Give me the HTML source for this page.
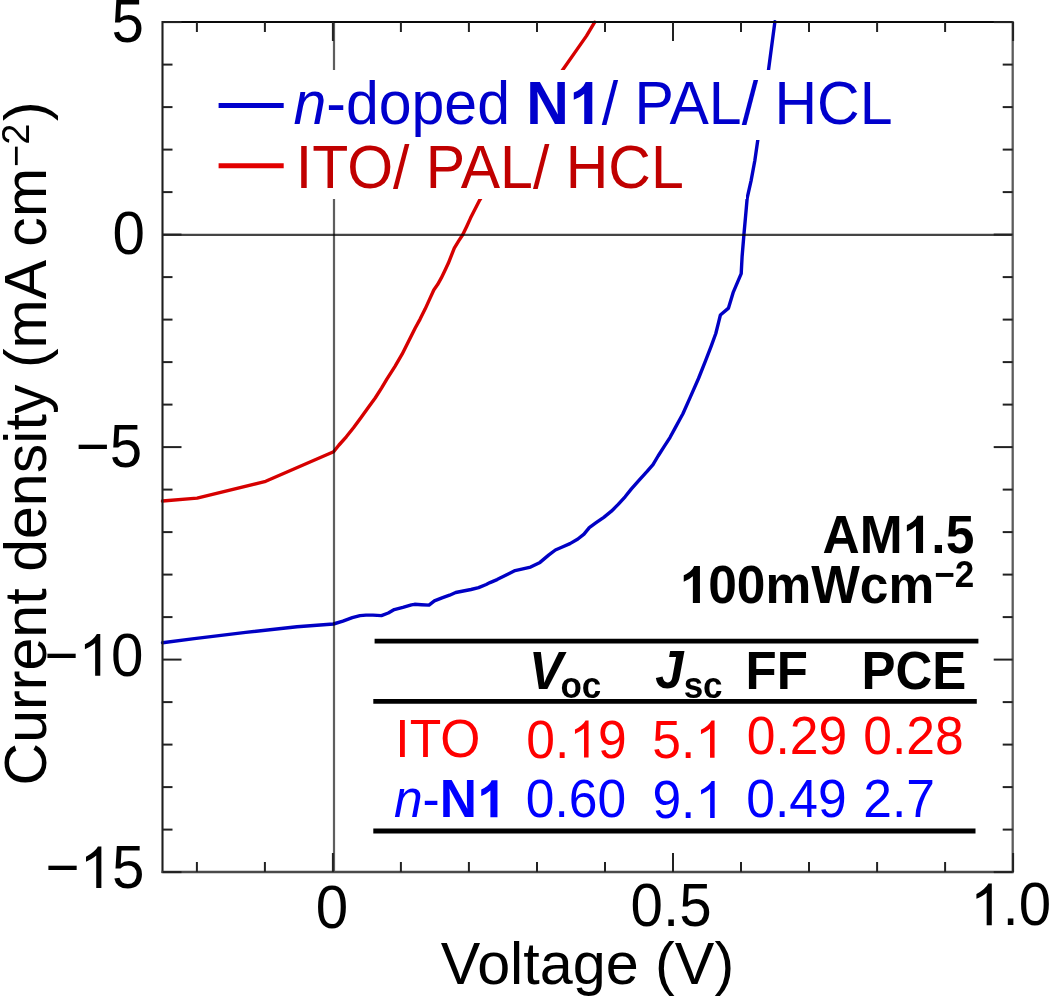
<!DOCTYPE html>
<html><head><meta charset="utf-8"><style>
html,body{margin:0;padding:0;background:#fff;overflow:hidden}
svg{display:block}
.h1{fill-opacity:0}
text{font-family:"Liberation Sans",sans-serif}
</style></head><body>
<svg width="1050" height="997" viewBox="0 0 1050 997">
<rect width="1050" height="997" fill="#fff"/>
<polyline fill="none" stroke="#d60000" stroke-width="3.4" stroke-linejoin="round" stroke-linecap="round" points="162.5,501.0 197.1,498.1 265.7,481.3 333.6,451.8 339,445 346.3,436.8 353.5,427.8 360.7,417.9 367.9,407.9 375.2,398 381.5,388.1 387,378.8 395,366.3 402.1,354.2 409.1,340.2 415.1,328.2 420.1,319.1 425.1,309.1 430.1,298.1 433.8,290 437.6,284.6 441.2,278.2 444.8,270.8 448.3,263.3 454.3,248.1 458.7,240.9 462.7,234.8 466.7,226.4 470.5,218.1 479.7,200 520,135 562.1,70.8 577.4,48.9 586.5,35.9 594.7,22.2"/>
<polyline fill="none" stroke="#0000c4" stroke-width="3.4" stroke-linejoin="round" stroke-linecap="round" points="162.5,642.8 194.3,638.6 245.7,632.4 297,626.8 333.4,624.0 342.9,621.1 352.3,617.7 360,615.6 366,615.1 372.9,615.1 381.4,615.6 388.3,613 394.3,609.6 402.9,607.4 411.4,604.9 414.6,604.3 421.4,604.7 429,605.1 434.4,600.9 442,597.9 449.6,595.2 455.7,592.5 463.3,591 471,589.5 478.6,587.6 486.2,584.5 490,582.6 497.1,579.6 505.7,575.3 515.1,570.6 522.9,568.9 530.6,567.1 540,562.4 548.6,555.1 555.4,550 562.3,547 570,543.6 577.9,539 584,534.1 589.3,527.6 596.1,522.7 603.8,517.3 611.4,511.2 618.2,504.4 625.1,496.8 631.2,489.1 638.5,480.8 647.1,471.4 653,464.6 658.1,456 664.1,446.7 670.1,437.3 675.2,427.9 680.3,418.5 682.9,413.7 690.4,396.9 698.5,378.5 705.4,361.2 711.2,346.2 715.8,333.5 718.7,321.9 720.4,315 728.5,308.1 733.1,292.7 741.2,273.7 742.1,256.5 743.9,234.8 745.7,214.9 747.2,197.8 751.1,180.6 754.8,160.7 757.8,139.9 768.6,69.2 774.9,21.8"/>
<line x1="334.0" y1="22" x2="334.0" y2="872" stroke="#5e5e5e" stroke-width="2.2" style="mix-blend-mode:multiply"/>
<line x1="162.5" y1="234.9" x2="1012.7" y2="234.9" stroke="#454545" stroke-width="2.2" style="mix-blend-mode:multiply"/>
<rect x="206" y="70" width="690" height="70" fill="#fff"/>
<rect x="206" y="138" width="540" height="61" fill="#fff"/>
<line x1="218.6" y1="105.4" x2="283.7" y2="105.4" stroke="#0000cc" stroke-width="5"/>
<line x1="218.6" y1="165.8" x2="283.7" y2="165.8" stroke="#e20000" stroke-width="5"/>
<line x1="162.5" y1="22" x2="1012.7" y2="22" stroke="#0a0a0a" stroke-width="2.1"/>
<line x1="162.5" y1="21" x2="162.5" y2="873" stroke="#1e1e1e" stroke-width="2.1"/>
<line x1="161.5" y1="872" x2="1013.7" y2="872" stroke="#4a4a4a" stroke-width="2.3"/>
<line x1="1012.7" y1="21" x2="1012.7" y2="873" stroke="#5c5c5c" stroke-width="2.3"/>
<g stroke="#222" stroke-width="2">
<line x1="196.9" y1="872" x2="196.9" y2="862"/>
<line x1="196.9" y1="22" x2="196.9" y2="32"/>
<line x1="264.9" y1="872" x2="264.9" y2="862"/>
<line x1="264.9" y1="22" x2="264.9" y2="32"/>
<line x1="332.9" y1="872" x2="332.9" y2="853"/>
<line x1="332.9" y1="22" x2="332.9" y2="41"/>
<line x1="400.9" y1="872" x2="400.9" y2="862"/>
<line x1="400.9" y1="22" x2="400.9" y2="32"/>
<line x1="468.9" y1="872" x2="468.9" y2="862"/>
<line x1="468.9" y1="22" x2="468.9" y2="32"/>
<line x1="537.0" y1="872" x2="537.0" y2="862"/>
<line x1="537.0" y1="22" x2="537.0" y2="32"/>
<line x1="605.0" y1="872" x2="605.0" y2="862"/>
<line x1="605.0" y1="22" x2="605.0" y2="32"/>
<line x1="673.0" y1="872" x2="673.0" y2="853"/>
<line x1="673.0" y1="22" x2="673.0" y2="41"/>
<line x1="741.0" y1="872" x2="741.0" y2="862"/>
<line x1="741.0" y1="22" x2="741.0" y2="32"/>
<line x1="809.0" y1="872" x2="809.0" y2="862"/>
<line x1="809.0" y1="22" x2="809.0" y2="32"/>
<line x1="877.1" y1="872" x2="877.1" y2="862"/>
<line x1="877.1" y1="22" x2="877.1" y2="32"/>
<line x1="945.1" y1="872" x2="945.1" y2="862"/>
<line x1="945.1" y1="22" x2="945.1" y2="32"/>
<line x1="1013.1" y1="872" x2="1013.1" y2="853"/>
<line x1="1013.1" y1="22" x2="1013.1" y2="41"/>
<line x1="162.5" y1="872.1" x2="181.5" y2="872.1"/>
<line x1="1012.7" y1="872.1" x2="993.7" y2="872.1"/>
<line x1="162.5" y1="829.6" x2="172.5" y2="829.6"/>
<line x1="1012.7" y1="829.6" x2="1002.7" y2="829.6"/>
<line x1="162.5" y1="787.1" x2="172.5" y2="787.1"/>
<line x1="1012.7" y1="787.1" x2="1002.7" y2="787.1"/>
<line x1="162.5" y1="744.6" x2="172.5" y2="744.6"/>
<line x1="1012.7" y1="744.6" x2="1002.7" y2="744.6"/>
<line x1="162.5" y1="702.1" x2="172.5" y2="702.1"/>
<line x1="1012.7" y1="702.1" x2="1002.7" y2="702.1"/>
<line x1="162.5" y1="659.6" x2="181.5" y2="659.6"/>
<line x1="1012.7" y1="659.6" x2="993.7" y2="659.6"/>
<line x1="162.5" y1="617.1" x2="172.5" y2="617.1"/>
<line x1="1012.7" y1="617.1" x2="1002.7" y2="617.1"/>
<line x1="162.5" y1="574.6" x2="172.5" y2="574.6"/>
<line x1="1012.7" y1="574.6" x2="1002.7" y2="574.6"/>
<line x1="162.5" y1="532.1" x2="172.5" y2="532.1"/>
<line x1="1012.7" y1="532.1" x2="1002.7" y2="532.1"/>
<line x1="162.5" y1="489.6" x2="172.5" y2="489.6"/>
<line x1="1012.7" y1="489.6" x2="1002.7" y2="489.6"/>
<line x1="162.5" y1="447.1" x2="181.5" y2="447.1"/>
<line x1="1012.7" y1="447.1" x2="993.7" y2="447.1"/>
<line x1="162.5" y1="404.6" x2="172.5" y2="404.6"/>
<line x1="1012.7" y1="404.6" x2="1002.7" y2="404.6"/>
<line x1="162.5" y1="362.1" x2="172.5" y2="362.1"/>
<line x1="1012.7" y1="362.1" x2="1002.7" y2="362.1"/>
<line x1="162.5" y1="319.6" x2="172.5" y2="319.6"/>
<line x1="1012.7" y1="319.6" x2="1002.7" y2="319.6"/>
<line x1="162.5" y1="277.1" x2="172.5" y2="277.1"/>
<line x1="1012.7" y1="277.1" x2="1002.7" y2="277.1"/>
<line x1="162.5" y1="234.6" x2="181.5" y2="234.6"/>
<line x1="1012.7" y1="234.6" x2="993.7" y2="234.6"/>
<line x1="162.5" y1="192.1" x2="172.5" y2="192.1"/>
<line x1="1012.7" y1="192.1" x2="1002.7" y2="192.1"/>
<line x1="162.5" y1="149.6" x2="172.5" y2="149.6"/>
<line x1="1012.7" y1="149.6" x2="1002.7" y2="149.6"/>
<line x1="162.5" y1="107.1" x2="172.5" y2="107.1"/>
<line x1="1012.7" y1="107.1" x2="1002.7" y2="107.1"/>
<line x1="162.5" y1="64.6" x2="172.5" y2="64.6"/>
<line x1="1012.7" y1="64.6" x2="1002.7" y2="64.6"/>
<line x1="162.5" y1="22.1" x2="181.5" y2="22.1"/>
<line x1="1012.7" y1="22.1" x2="993.7" y2="22.1"/>
</g>
<g stroke="#000" stroke-width="4.8">
<line x1="374.6" y1="641.1" x2="978.4" y2="641.1"/>
<line x1="373.3" y1="701.3" x2="976.8" y2="701.3"/>
<line x1="373.3" y1="831" x2="975.5" y2="831"/>
</g>
<g transform="translate(143.9,42.2) scale(1.0,1.04)"><text x="0" y="0" font-size="58.3" fill="#000" text-anchor="end">5</text></g>
<g transform="translate(145.0,253.7) scale(1.0,1.04)"><text x="0" y="0" font-size="58.3" fill="#000" text-anchor="end">0</text></g>
<g transform="translate(142.1,467.3) scale(1.0,1.04)"><text x="0" y="0" font-size="58.3" fill="#000" text-anchor="end">−5</text></g>
<g transform="translate(143.4,675.7) scale(1.0,1.04)"><text x="0" y="0" font-size="58.3" fill="#000" text-anchor="end">−<tspan class="h1">1</tspan>0</text><path transform="translate(-64.85,0.00) scale(0.02847,-0.02847)" d="M763 0L583 0L583 1102Q518 1043 412 983Q306 924 223 894L223 1061Q372 1128 484 1224Q596 1320 643 1409L763 1409Z" fill="rgb(0, 0, 0)"/></g>
<g transform="translate(144.5,888.1) scale(1.0,1.04)"><text x="0" y="0" font-size="58.3" fill="#000" text-anchor="end">−<tspan class="h1">1</tspan>5</text><path transform="translate(-64.85,0.00) scale(0.02847,-0.02847)" d="M763 0L583 0L583 1102Q518 1043 412 983Q306 924 223 894L223 1061Q372 1128 484 1224Q596 1320 643 1409L763 1409Z" fill="rgb(0, 0, 0)"/></g>
<g transform="translate(332.0,927.9) scale(1.0,1.04)"><text x="0" y="0" font-size="58.3" fill="#000" text-anchor="middle">0</text></g>
<g transform="translate(671.1,925.5) scale(1.0,1.04)"><text x="0" y="0" font-size="58.3" fill="#000" text-anchor="middle">0.5</text></g>
<g transform="translate(1010.6,925.3) scale(1.0,1.04)"><text x="0" y="0" font-size="58.3" fill="#000" text-anchor="middle"><tspan class="h1">1</tspan>.0</text><path transform="translate(-40.53,0.00) scale(0.02847,-0.02847)" d="M763 0L583 0L583 1102Q518 1043 412 983Q306 924 223 894L223 1061Q372 1128 484 1224Q596 1320 643 1409L763 1409Z" fill="rgb(0, 0, 0)"/></g>
<g transform="translate(587.5,984.0) scale(1.0,1.01)"><text x="0" y="0" font-size="59.3" fill="#000" text-anchor="middle">Voltage (V)</text></g>
<g transform="translate(46.0,785.4) rotate(-90) scale(1.0,1.02)"><text x="0" y="0" font-size="58.9" fill="#000"><tspan letter-spacing="0.1">Current density (mA cm</tspan><tspan dx="1" dy="-17" font-size="38">−2</tspan><tspan dx="2.5" dy="17">)</tspan></text></g>
<g transform="translate(293.5,123.9) scale(1.0,1.03)"><text x="0" y="0" font-size="59" fill="#0000cc"><tspan font-style="italic">n</tspan>-doped <tspan font-weight="bold">N<tspan class="h1">1</tspan></tspan>/ PAL/ HCL</text><path transform="translate(275.48,0.00) scale(0.02881,-0.02881)" d="M810 0L529 0L529 1018Q375 879 166 813L166 1058Q276 1093 404 1188Q532 1283 579 1409L810 1409Z" fill="rgb(0, 0, 204)"/></g>
<g transform="translate(295.8,187.7) scale(1.0,1.03)"><text x="0" y="0" font-size="59" fill="#c00000">ITO/ PAL/ HCL</text></g>
<g transform="translate(974.3,552.9) scale(1.0,1.05)"><text x="0" y="0" font-size="51.5" fill="#000" font-weight="bold" text-anchor="end">AM<tspan class="h1">1</tspan>.5</text><path transform="translate(-71.61,0.00) scale(0.02515,-0.02515)" d="M810 0L529 0L529 1018Q375 879 166 813L166 1058Q276 1093 404 1188Q532 1283 579 1409L810 1409Z" fill="rgb(0, 0, 0)"/></g>
<g transform="translate(974.2,602.9) scale(1.0,1.04)"><text x="0" y="0" font-size="51.5" fill="#000" font-weight="bold" text-anchor="end"><tspan class="h1">1</tspan>00mWcm<tspan dy="-15" font-size="35">−2</tspan></text><path transform="translate(-294.63,0.00) scale(0.02515,-0.02515)" d="M810 0L529 0L529 1018Q375 879 166 813L166 1058Q276 1093 404 1188Q532 1283 579 1409L810 1409Z" fill="rgb(0, 0, 0)"/></g>
<g transform="translate(529.0,688.5) scale(1.0,1.04)"><text x="0" y="0" font-size="51" fill="#000" font-weight="bold"><tspan font-style="italic">V</tspan><tspan font-size="35" dx="-2.5" dy="9">oc</tspan></text></g>
<g transform="translate(655.3,688.2) scale(1.0,1.04)"><text x="0" y="0" font-size="51" fill="#000" font-weight="bold"><tspan font-style="italic">J</tspan><tspan font-size="35" dy="9">sc</tspan></text></g>
<g transform="translate(745.5,688.5) scale(1.0,1.04)"><text x="0" y="0" font-size="51" fill="#000" font-weight="bold">FF</text></g>
<g transform="translate(861.4,688.5) scale(1.0,1.04)"><text x="0" y="0" font-size="51" fill="#000" font-weight="bold">PCE</text></g>
<g transform="translate(395.3,757.1) scale(1.0,1.045)"><text x="0" y="0" font-size="51.6" fill="#ff0000">ITO</text></g>
<g transform="translate(526.3,757.5) scale(1.0,1.045)"><text x="0" y="0" font-size="51.6" fill="#ff0000">0.<tspan class="h1">1</tspan>9</text><path transform="translate(43.04,0.00) scale(0.02520,-0.02520)" d="M763 0L583 0L583 1102Q518 1043 412 983Q306 924 223 894L223 1061Q372 1128 484 1224Q596 1320 643 1409L763 1409Z" fill="rgb(255, 0, 0)"/></g>
<g transform="translate(652.3,757.7) scale(1.0,1.045)"><text x="0" y="0" font-size="51.6" fill="#ff0000">5.<tspan class="h1">1</tspan></text><path transform="translate(43.04,0.00) scale(0.02520,-0.02520)" d="M763 0L583 0L583 1102Q518 1043 412 983Q306 924 223 894L223 1061Q372 1128 484 1224Q596 1320 643 1409L763 1409Z" fill="rgb(255, 0, 0)"/></g>
<g transform="translate(746.7,754.0) scale(1.0,1.045)"><text x="0" y="0" font-size="51.6" fill="#ff0000">0.29</text></g>
<g transform="translate(863.3,753.6) scale(1.0,1.045)"><text x="0" y="0" font-size="51.6" fill="#ff0000">0.28</text></g>
<g transform="translate(393.9,817.3) scale(1.0,1.045)"><text x="0" y="0" font-size="51.6" fill="#0000ff"><tspan font-style="italic">n</tspan>-<tspan font-weight="bold">N<tspan class="h1">1</tspan></tspan></text><path transform="translate(83.16,0.00) scale(0.02520,-0.02520)" d="M810 0L529 0L529 1018Q375 879 166 813L166 1058Q276 1093 404 1188Q532 1283 579 1409L810 1409Z" fill="rgb(0, 0, 255)"/></g>
<g transform="translate(525.8,817.3) scale(1.0,1.045)"><text x="0" y="0" font-size="51.6" fill="#0000ff">0.60</text></g>
<g transform="translate(652.4,818.0) scale(1.0,1.045)"><text x="0" y="0" font-size="51.6" fill="#0000ff">9.<tspan class="h1">1</tspan></text><path transform="translate(43.04,0.00) scale(0.02520,-0.02520)" d="M763 0L583 0L583 1102Q518 1043 412 983Q306 924 223 894L223 1061Q372 1128 484 1224Q596 1320 643 1409L763 1409Z" fill="rgb(0, 0, 255)"/></g>
<g transform="translate(746.3,817.2) scale(1.0,1.045)"><text x="0" y="0" font-size="51.6" fill="#0000ff">0.49</text></g>
<g transform="translate(863.2,817.1) scale(1.0,1.045)"><text x="0" y="0" font-size="51.6" fill="#0000ff">2.7</text></g>
</svg>
</body></html>
